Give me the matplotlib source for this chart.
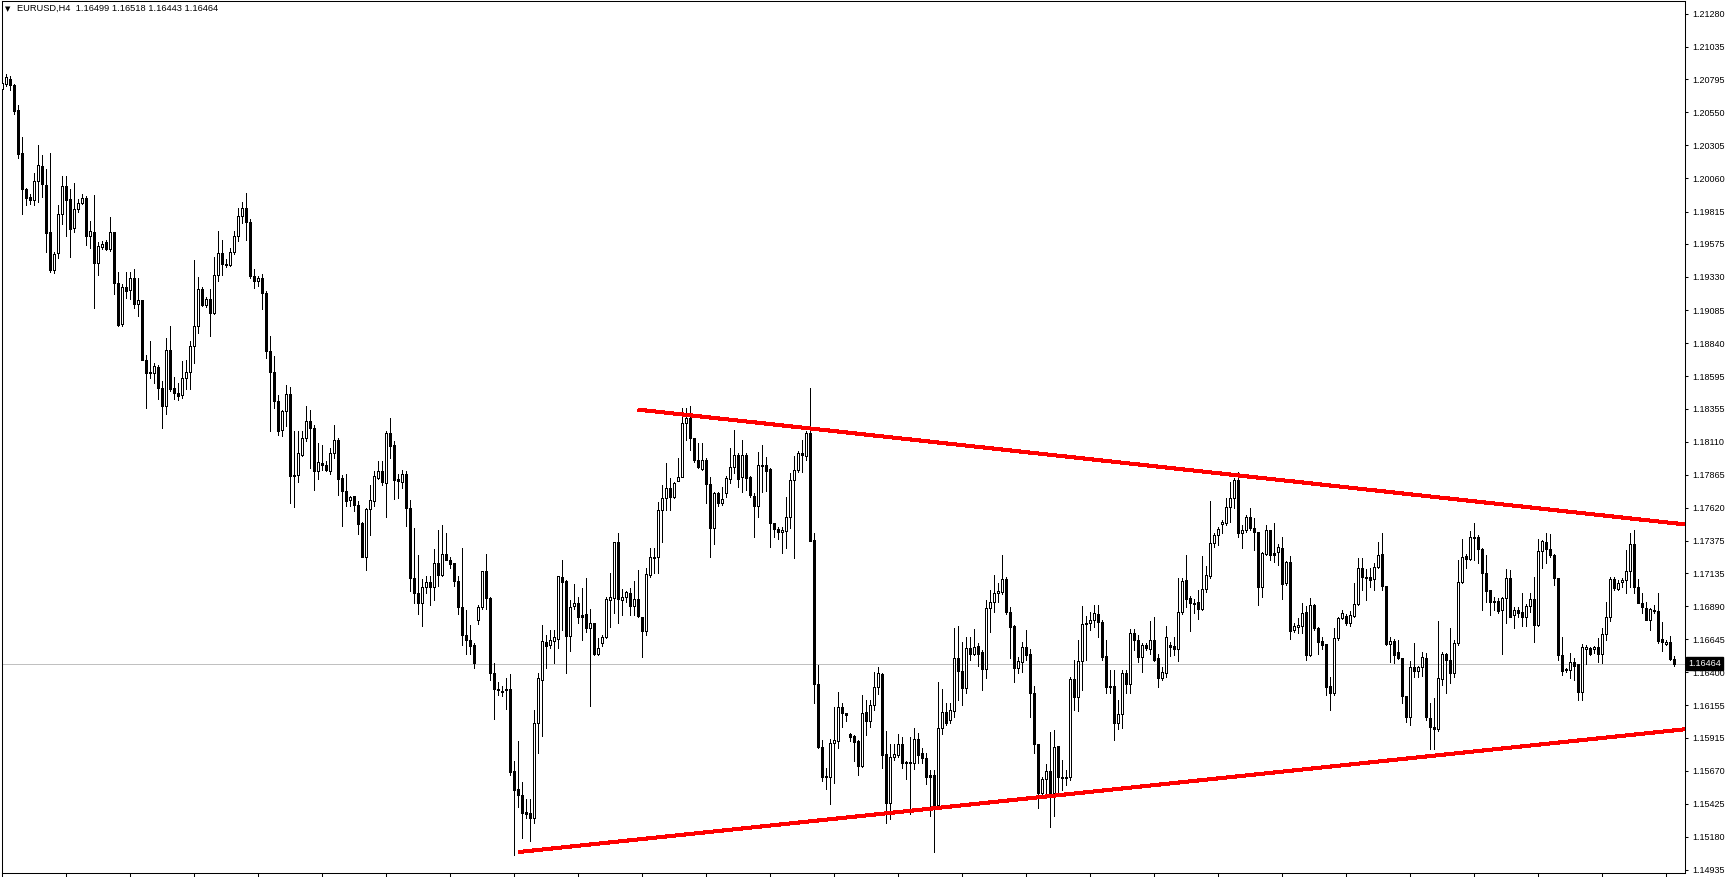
import numpy as np
import matplotlib
matplotlib.use('Agg')
from matplotlib import pyplot as plt

plt.rcParams['font.family'] = ['Liberation Sans', 'DejaVu Sans']

symbol = 'EURUSD,H4'

# H4 candles, oldest first (prices)
opens = [
    1.20725, 1.20762, 1.20799, 1.20754, 1.20569, 1.20250, 1.19984, 1.19925, 1.19902, 1.20043,
    1.20154, 1.20013, 1.19666, 1.19384, 1.19510, 1.19799, 1.20006, 1.19910, 1.19695, 1.19836,
    1.19880, 1.19917, 1.19636, 1.19666, 1.19436, 1.19555, 1.19592, 1.19540, 1.19666, 1.19288,
    1.18985, 1.19259, 1.19236, 1.19325, 1.19133, 1.19162, 1.18718, 1.18622, 1.18615, 1.18659,
    1.18510, 1.18370, 1.18792, 1.18510, 1.18473, 1.18458, 1.18578, 1.18622, 1.18822, 1.18963,
    1.19244, 1.19125, 1.19170, 1.19066, 1.19347, 1.19510, 1.19429, 1.19421, 1.19518, 1.19636,
    1.19784, 1.19843, 1.19740, 1.19340, 1.19303, 1.19325, 1.19214, 1.18778, 1.18622, 1.18407,
    1.18199, 1.18333, 1.18466, 1.17852, 1.17859, 1.18014, 1.18133, 1.18266, 1.18207, 1.17889,
    1.17948, 1.17940, 1.17889, 1.18022, 1.18118, 1.17837, 1.17741, 1.17674, 1.17704, 1.17637,
    1.17504, 1.17252, 1.17607, 1.17667, 1.17837, 1.17889, 1.17800, 1.18170, 1.18081, 1.17829,
    1.17807, 1.17866, 1.17615, 1.17097, 1.16986, 1.16912, 1.17030, 1.17067, 1.17030, 1.17208,
    1.17119, 1.17274, 1.17230, 1.17208, 1.17075, 1.16882, 1.16674, 1.16637, 1.16600, 1.16786,
    1.16882, 1.17149, 1.16949, 1.16393, 1.16274, 1.16260, 1.16274, 1.16274, 1.15668, 1.15534,
    1.15490, 1.15364, 1.15357, 1.15320, 1.16023, 1.16341, 1.16622, 1.16600, 1.16630, 1.16644,
    1.17104, 1.17075, 1.16667, 1.16890, 1.16912, 1.16823, 1.16830, 1.16727, 1.16764, 1.16533,
    1.16615, 1.16659, 1.16934, 1.16949, 1.17363, 1.16934, 1.16956, 1.16986, 1.16890, 1.16941,
    1.16808, 1.16704, 1.17119, 1.17245, 1.17252, 1.17600, 1.17689, 1.17763, 1.17696, 1.17815,
    1.17844, 1.18251, 1.18281, 1.18133, 1.17977, 1.17903, 1.17977, 1.17792, 1.17467, 1.17726,
    1.17652, 1.17726, 1.17829, 1.17918, 1.18014, 1.17844, 1.18007, 1.17844, 1.17704, 1.17630,
    1.17926, 1.17933, 1.17903, 1.17504, 1.17459, 1.17437, 1.17445, 1.17548, 1.17822, 1.17896,
    1.18022, 1.18000, 1.18170, 1.17378, 1.16311, 1.15845, 1.15631, 1.15623, 1.15875, 1.15890,
    1.16141, 1.16097, 1.15941, 1.15927, 1.15890, 1.15705, 1.16104, 1.16038, 1.16156, 1.16289,
    1.16385, 1.15793, 1.15431, 1.15771, 1.15786, 1.15867, 1.15734, 1.15734, 1.15727, 1.15904,
    1.15801, 1.15764, 1.15638, 1.15638, 1.15416, 1.15986, 1.16104, 1.16045, 1.16112, 1.16504,
    1.16408, 1.16282, 1.16578, 1.16533, 1.16593, 1.16548, 1.16422, 1.16875, 1.16919, 1.16986,
    1.16993, 1.17089, 1.16845, 1.16742, 1.16430, 1.16474, 1.16585, 1.16533, 1.16245, 1.15867,
    1.15505, 1.15608, 1.15668, 1.15505, 1.15853, 1.15623, 1.15623, 1.15623, 1.16348, 1.16215,
    1.16482, 1.16756, 1.16764, 1.16786, 1.16830, 1.16771, 1.16519, 1.16297, 1.16297, 1.16023,
    1.16089, 1.16393, 1.16311, 1.16689, 1.16637, 1.16511, 1.16600, 1.16570, 1.16637, 1.16504,
    1.16356, 1.16393, 1.16600, 1.16593, 1.16570, 1.16845, 1.17082, 1.16949, 1.16912, 1.16919,
    1.16867, 1.17015, 1.17112, 1.17356, 1.17415, 1.17496, 1.17504, 1.17622, 1.17689, 1.17822,
    1.17430, 1.17452, 1.17548, 1.17467, 1.17437, 1.17030, 1.17274, 1.17452, 1.17282, 1.17289,
    1.17319, 1.17060, 1.17215, 1.16711, 1.16734, 1.16742, 1.16845, 1.16526, 1.16897, 1.16727,
    1.16630, 1.16607, 1.16297, 1.16245, 1.16652, 1.16801, 1.16816, 1.16764, 1.16816, 1.16904,
    1.17171, 1.17104, 1.17104, 1.17089, 1.17178, 1.17274, 1.17038, 1.16607, 1.16630, 1.16548,
    1.16504, 1.16223, 1.16067, 1.16437, 1.16408, 1.16437, 1.16504, 1.16060, 1.15993, 1.15978,
    1.16348, 1.16533, 1.16489, 1.16393, 1.16615, 1.17067, 1.17260, 1.17237, 1.17393, 1.17400,
    1.17311, 1.17134, 1.17008, 1.16927, 1.16927, 1.16860, 1.16949, 1.17097, 1.16823, 1.16860,
    1.16845, 1.16808, 1.16890, 1.16941, 1.16749, 1.17297, 1.17363, 1.17311, 1.17267, 1.17097,
    1.16526, 1.16422, 1.16415, 1.16474, 1.16459, 1.16252, 1.16570, 1.16578, 1.16570, 1.16585,
    1.16533, 1.16682, 1.16808, 1.17089, 1.17015, 1.17067, 1.17082, 1.17149, 1.17348, 1.17030,
    1.16912, 1.16875, 1.16786, 1.16860, 1.16853, 1.16644, 1.16607, 1.16622, 1.16499,
]
highs = [
    1.21058, 1.20836, 1.20821, 1.20762, 1.20606, 1.20370, 1.19991, 1.19947, 1.20102, 1.20309,
    1.20235, 1.20132, 1.20250, 1.19518, 1.19865, 1.20080, 1.20080, 1.19984, 1.20028, 1.19910,
    1.19947, 1.19932, 1.19747, 1.19939, 1.19592, 1.19599, 1.19606, 1.19777, 1.19666, 1.19370,
    1.19281, 1.19370, 1.19370, 1.19392, 1.19325, 1.19162, 1.18748, 1.18852, 1.18696, 1.18681,
    1.18562, 1.18881, 1.18963, 1.18585, 1.18547, 1.18704, 1.18711, 1.18859, 1.19458, 1.19333,
    1.19259, 1.19185, 1.19244, 1.19481, 1.19673, 1.19606, 1.19466, 1.19547, 1.19673, 1.19843,
    1.19888, 1.19954, 1.19762, 1.19392, 1.19340, 1.19355, 1.19229, 1.18896, 1.18741, 1.18458,
    1.18347, 1.18532, 1.18518, 1.18185, 1.18185, 1.18185, 1.18370, 1.18347, 1.18236, 1.18096,
    1.18081, 1.17963, 1.18066, 1.18236, 1.18140, 1.17859, 1.17866, 1.17704, 1.17704, 1.17667,
    1.17511, 1.17615, 1.17785, 1.17889, 1.17963, 1.17963, 1.18185, 1.18288, 1.18111, 1.17866,
    1.17896, 1.17889, 1.17674, 1.17467, 1.17267, 1.17089, 1.17112, 1.17112, 1.17311, 1.17452,
    1.17489, 1.17430, 1.17252, 1.17208, 1.17112, 1.17319, 1.16860, 1.16749, 1.16615, 1.16897,
    1.17104, 1.17274, 1.16956, 1.16467, 1.16326, 1.16297, 1.16356, 1.16385, 1.15742, 1.15890,
    1.15586, 1.15460, 1.15460, 1.16119, 1.16393, 1.16749, 1.16674, 1.16711, 1.16711, 1.17104,
    1.17230, 1.17082, 1.16934, 1.17052, 1.16956, 1.17023, 1.17097, 1.16867, 1.16764, 1.16652,
    1.16674, 1.16956, 1.17134, 1.17363, 1.17430, 1.17015, 1.17001, 1.17023, 1.17075, 1.17156,
    1.16808, 1.17171, 1.17319, 1.17319, 1.17659, 1.17785, 1.17948, 1.17837, 1.17807, 1.17985,
    1.18362, 1.18362, 1.18377, 1.18140, 1.18096, 1.18096, 1.17985, 1.17844, 1.17733, 1.17733,
    1.17770, 1.17852, 1.18066, 1.18199, 1.18022, 1.18125, 1.18022, 1.17852, 1.17726, 1.18029,
    1.18081, 1.17992, 1.17911, 1.17504, 1.17474, 1.17474, 1.17696, 1.17874, 1.18000, 1.18037,
    1.18118, 1.18185, 1.18510, 1.17430, 1.16452, 1.15897, 1.15690, 1.15904, 1.16141, 1.16252,
    1.16171, 1.16097, 1.15949, 1.15934, 1.15897, 1.16230, 1.16193, 1.16193, 1.16400, 1.16437,
    1.16393, 1.15964, 1.15867, 1.15867, 1.15941, 1.15919, 1.15742, 1.15919, 1.15986, 1.15949,
    1.15838, 1.15801, 1.15675, 1.15675, 1.16326, 1.16274, 1.16171, 1.16171, 1.16727, 1.16742,
    1.16622, 1.16659, 1.16659, 1.16719, 1.16615, 1.16563, 1.16934, 1.17008, 1.17119, 1.17060,
    1.17267, 1.17104, 1.16882, 1.16749, 1.16511, 1.16622, 1.16711, 1.16570, 1.16297, 1.15867,
    1.15623, 1.15719, 1.15956, 1.15971, 1.15853, 1.15749, 1.15675, 1.16363, 1.16489, 1.16637,
    1.16890, 1.16816, 1.16845, 1.16897, 1.16897, 1.16786, 1.16637, 1.16415, 1.16415, 1.16193,
    1.16415, 1.16415, 1.16719, 1.16719, 1.16674, 1.16615, 1.16615, 1.16779, 1.16808, 1.16533,
    1.16437, 1.16742, 1.16622, 1.16659, 1.17097, 1.17097, 1.17267, 1.16963, 1.16941, 1.17008,
    1.17260, 1.17186, 1.17667, 1.17430, 1.17474, 1.17526, 1.17689, 1.17807, 1.17837, 1.17881,
    1.17489, 1.17563, 1.17615, 1.17541, 1.17437, 1.17289, 1.17489, 1.17452, 1.17504, 1.17348,
    1.17400, 1.17223, 1.17260, 1.16764, 1.16801, 1.16912, 1.16890, 1.16949, 1.16904, 1.16734,
    1.16659, 1.16607, 1.16363, 1.16727, 1.16808, 1.16860, 1.16830, 1.16853, 1.17060, 1.17245,
    1.17245, 1.17163, 1.17171, 1.17208, 1.17363, 1.17430, 1.17038, 1.16659, 1.16644, 1.16637,
    1.16504, 1.16223, 1.16482, 1.16615, 1.16445, 1.16548, 1.16541, 1.16171, 1.16208, 1.16779,
    1.16548, 1.16541, 1.16727, 1.16637, 1.17230, 1.17385, 1.17274, 1.17445, 1.17504, 1.17415,
    1.17319, 1.17267, 1.17008, 1.16956, 1.16949, 1.16956, 1.17163, 1.17156, 1.16882, 1.16882,
    1.16986, 1.16904, 1.16986, 1.17104, 1.17385, 1.17378, 1.17430, 1.17422, 1.17274, 1.17097,
    1.16659, 1.16430, 1.16541, 1.16504, 1.16459, 1.16607, 1.16600, 1.16585, 1.16593, 1.16652,
    1.16727, 1.16919, 1.17104, 1.17104, 1.17082, 1.17097, 1.17304, 1.17430, 1.17452, 1.17089,
    1.16986, 1.16919, 1.16875, 1.16897, 1.16986, 1.16771, 1.16637, 1.16667, 1.16518,
]
lows = [
    1.20703, 1.20747, 1.20717, 1.20540, 1.20213, 1.19799, 1.19865, 1.19873, 1.19865, 1.19888,
    1.19925, 1.19518, 1.19370, 1.19362, 1.19473, 1.19725, 1.19636, 1.19481, 1.19666, 1.19814,
    1.19873, 1.19569, 1.19547, 1.19103, 1.19347, 1.19540, 1.19532, 1.19525, 1.19207, 1.18970,
    1.18963, 1.19177, 1.19170, 1.19103, 1.19037, 1.18711, 1.18362, 1.18578, 1.18547, 1.18429,
    1.18214, 1.18318, 1.18488, 1.18429, 1.18421, 1.18436, 1.18503, 1.18503, 1.18689, 1.18918,
    1.19118, 1.19111, 1.18896, 1.19059, 1.19303, 1.19347, 1.19407, 1.19414, 1.19503, 1.19599,
    1.19732, 1.19606, 1.19325, 1.19251, 1.19266, 1.19096, 1.18726, 1.18185, 1.18362, 1.18162,
    1.18148, 1.18229, 1.17652, 1.17622, 1.17807, 1.18000, 1.18111, 1.17911, 1.17748, 1.17829,
    1.17896, 1.17889, 1.17866, 1.17985, 1.17711, 1.17482, 1.17630, 1.17630, 1.17593, 1.17422,
    1.17267, 1.17156, 1.17415, 1.17630, 1.17829, 1.17785, 1.17548, 1.17985, 1.17681, 1.17689,
    1.17763, 1.17482, 1.17001, 1.16912, 1.16830, 1.16742, 1.16986, 1.16897, 1.16934, 1.17038,
    1.17112, 1.17267, 1.17171, 1.17038, 1.16830, 1.16600, 1.16533, 1.16533, 1.16430, 1.16756,
    1.16867, 1.16867, 1.16341, 1.16052, 1.16230, 1.16223, 1.16126, 1.15638, 1.15046, 1.15401,
    1.15172, 1.15320, 1.15150, 1.15283, 1.15801, 1.15927, 1.16430, 1.16578, 1.16467, 1.16578,
    1.16711, 1.16393, 1.16556, 1.16867, 1.16764, 1.16637, 1.16696, 1.16149, 1.16526, 1.16526,
    1.16593, 1.16652, 1.16734, 1.16838, 1.16764, 1.16823, 1.16919, 1.16823, 1.16823, 1.16808,
    1.16511, 1.16674, 1.17104, 1.17134, 1.17134, 1.17363, 1.17600, 1.17600, 1.17689, 1.17815,
    1.17844, 1.18125, 1.18044, 1.17955, 1.17911, 1.17896, 1.17652, 1.17252, 1.17348, 1.17630,
    1.17637, 1.17696, 1.17800, 1.17874, 1.17770, 1.17733, 1.17748, 1.17696, 1.17400, 1.17548,
    1.17733, 1.17741, 1.17326, 1.17400, 1.17385, 1.17282, 1.17319, 1.17467, 1.17245, 1.17881,
    1.17881, 1.17970, 1.17371, 1.16171, 1.15838, 1.15594, 1.15534, 1.15423, 1.15579, 1.15838,
    1.15993, 1.16038, 1.15890, 1.15742, 1.15638, 1.15697, 1.15934, 1.15993, 1.16119, 1.16237,
    1.15690, 1.15283, 1.15312, 1.15749, 1.15771, 1.15690, 1.15608, 1.15349, 1.15682, 1.15727,
    1.15727, 1.15571, 1.15335, 1.15068, 1.15401, 1.15941, 1.16008, 1.16023, 1.16067, 1.16193,
    1.16156, 1.16245, 1.16489, 1.16526, 1.16445, 1.16267, 1.16356, 1.16696, 1.16845, 1.16919,
    1.16978, 1.16830, 1.16504, 1.16326, 1.16393, 1.16400, 1.16489, 1.16067, 1.15801, 1.15394,
    1.15483, 1.15490, 1.15253, 1.15335, 1.15505, 1.15527, 1.15564, 1.15601, 1.16119, 1.16112,
    1.16267, 1.16489, 1.16711, 1.16734, 1.16659, 1.16489, 1.16245, 1.16245, 1.15897, 1.15978,
    1.15986, 1.16245, 1.16245, 1.16563, 1.16474, 1.16400, 1.16563, 1.16533, 1.16482, 1.16289,
    1.16341, 1.16363, 1.16519, 1.16526, 1.16482, 1.16830, 1.16882, 1.16704, 1.16838, 1.16793,
    1.16860, 1.16993, 1.17097, 1.17326, 1.17341, 1.17430, 1.17489, 1.17511, 1.17615, 1.17400,
    1.17319, 1.17437, 1.17452, 1.17304, 1.16897, 1.16956, 1.17267, 1.17230, 1.17215, 1.17193,
    1.16941, 1.17045, 1.16644, 1.16696, 1.16689, 1.16689, 1.16489, 1.16519, 1.16711, 1.16533,
    1.16570, 1.16230, 1.16119, 1.16230, 1.16637, 1.16793, 1.16749, 1.16742, 1.16808, 1.16897,
    1.17008, 1.16934, 1.17030, 1.17008, 1.17171, 1.17008, 1.16600, 1.16474, 1.16467, 1.16496,
    1.16171, 1.16030, 1.16008, 1.16363, 1.16363, 1.16371, 1.16045, 1.15830, 1.15830, 1.15964,
    1.16304, 1.16245, 1.16319, 1.16363, 1.16600, 1.17060, 1.17171, 1.17230, 1.17230, 1.17208,
    1.16860, 1.16919, 1.16823, 1.16860, 1.16838, 1.16533, 1.16764, 1.16808, 1.16727, 1.16808,
    1.16742, 1.16742, 1.16845, 1.16622, 1.16742, 1.17171, 1.17208, 1.17252, 1.17045, 1.16489,
    1.16378, 1.16400, 1.16356, 1.16341, 1.16193, 1.16193, 1.16459, 1.16526, 1.16541, 1.16474,
    1.16467, 1.16637, 1.16779, 1.17008, 1.17008, 1.17030, 1.16986, 1.17030, 1.16986, 1.16912,
    1.16838, 1.16786, 1.16711, 1.16838, 1.16615, 1.16556, 1.16600, 1.16489, 1.16443,
]
closes = [
    1.20769, 1.20814, 1.20754, 1.20562, 1.20243, 1.19984, 1.19917, 1.19902, 1.20043, 1.20161,
    1.20021, 1.19658, 1.19384, 1.19503, 1.19799, 1.20006, 1.19902, 1.19688, 1.19836, 1.19880,
    1.19917, 1.19636, 1.19673, 1.19436, 1.19562, 1.19577, 1.19540, 1.19666, 1.19288, 1.18977,
    1.19259, 1.19229, 1.19325, 1.19133, 1.19162, 1.18718, 1.18615, 1.18615, 1.18667, 1.18510,
    1.18370, 1.18785, 1.18503, 1.18473, 1.18451, 1.18578, 1.18622, 1.18822, 1.18963, 1.19244,
    1.19125, 1.19170, 1.19066, 1.19347, 1.19510, 1.19429, 1.19421, 1.19518, 1.19636, 1.19784,
    1.19843, 1.19740, 1.19340, 1.19303, 1.19325, 1.19214, 1.18778, 1.18622, 1.18407, 1.18192,
    1.18333, 1.18466, 1.17852, 1.17859, 1.18022, 1.18140, 1.18266, 1.18207, 1.17889, 1.17955,
    1.17940, 1.17896, 1.18022, 1.18118, 1.17829, 1.17741, 1.17667, 1.17696, 1.17637, 1.17496,
    1.17252, 1.17607, 1.17674, 1.17852, 1.17889, 1.17807, 1.18170, 1.18074, 1.17822, 1.17815,
    1.17866, 1.17615, 1.17097, 1.16986, 1.16912, 1.17030, 1.17067, 1.17030, 1.17208, 1.17119,
    1.17274, 1.17230, 1.17200, 1.17075, 1.16882, 1.16674, 1.16637, 1.16593, 1.16467, 1.16882,
    1.17149, 1.16949, 1.16393, 1.16274, 1.16267, 1.16252, 1.16267, 1.15660, 1.15527, 1.15490,
    1.15357, 1.15349, 1.15320, 1.16023, 1.16356, 1.16630, 1.16593, 1.16637, 1.16659, 1.17112,
    1.17067, 1.16667, 1.16882, 1.16912, 1.16808, 1.16808, 1.16727, 1.16764, 1.16533, 1.16578,
    1.16659, 1.16941, 1.16956, 1.17363, 1.16941, 1.16956, 1.16993, 1.16890, 1.16941, 1.16816,
    1.16704, 1.17126, 1.17252, 1.17252, 1.17600, 1.17689, 1.17763, 1.17696, 1.17800, 1.17844,
    1.18251, 1.18281, 1.18133, 1.17970, 1.17918, 1.17977, 1.17792, 1.17467, 1.17726, 1.17652,
    1.17681, 1.17837, 1.17918, 1.18014, 1.17829, 1.18007, 1.17837, 1.17711, 1.17630, 1.17933,
    1.17933, 1.17889, 1.17504, 1.17459, 1.17437, 1.17452, 1.17548, 1.17822, 1.17896, 1.18022,
    1.18007, 1.18170, 1.17371, 1.16311, 1.15845, 1.15623, 1.15623, 1.15875, 1.15897, 1.16141,
    1.16097, 1.16082, 1.15919, 1.15882, 1.15705, 1.16097, 1.16038, 1.16156, 1.16289, 1.16393,
    1.15786, 1.15431, 1.15771, 1.15793, 1.15867, 1.15727, 1.15727, 1.15727, 1.15904, 1.15786,
    1.15764, 1.15623, 1.15623, 1.15416, 1.15986, 1.16104, 1.16023, 1.16119, 1.16504, 1.16408,
    1.16282, 1.16578, 1.16533, 1.16585, 1.16533, 1.16422, 1.16875, 1.16919, 1.16986, 1.17001,
    1.17089, 1.16845, 1.16734, 1.16430, 1.16482, 1.16585, 1.16526, 1.16245, 1.15867, 1.15505,
    1.15608, 1.15668, 1.15505, 1.15845, 1.15623, 1.15616, 1.15616, 1.16348, 1.16215, 1.16482,
    1.16756, 1.16764, 1.16786, 1.16838, 1.16771, 1.16511, 1.16289, 1.16289, 1.16023, 1.16089,
    1.16393, 1.16311, 1.16689, 1.16637, 1.16511, 1.16600, 1.16578, 1.16637, 1.16489, 1.16356,
    1.16400, 1.16659, 1.16585, 1.16570, 1.16845, 1.17075, 1.16941, 1.16912, 1.16904, 1.16867,
    1.17015, 1.17119, 1.17356, 1.17415, 1.17459, 1.17511, 1.17622, 1.17689, 1.17822, 1.17430,
    1.17452, 1.17548, 1.17467, 1.17437, 1.17030, 1.17282, 1.17452, 1.17267, 1.17267, 1.17326,
    1.17052, 1.17215, 1.16704, 1.16742, 1.16749, 1.16838, 1.16526, 1.16897, 1.16727, 1.16622,
    1.16600, 1.16289, 1.16245, 1.16652, 1.16801, 1.16838, 1.16764, 1.16823, 1.16904, 1.17171,
    1.17104, 1.17097, 1.17082, 1.17178, 1.17267, 1.17038, 1.16607, 1.16630, 1.16526, 1.16504,
    1.16223, 1.16067, 1.16437, 1.16408, 1.16437, 1.16511, 1.16067, 1.15993, 1.15978, 1.16356,
    1.16533, 1.16489, 1.16393, 1.16615, 1.17067, 1.17252, 1.17237, 1.17400, 1.17400, 1.17311,
    1.17134, 1.17001, 1.16919, 1.16919, 1.16853, 1.16949, 1.17097, 1.16808, 1.16860, 1.16838,
    1.16808, 1.16890, 1.16941, 1.16749, 1.17297, 1.17371, 1.17311, 1.17267, 1.17097, 1.16526,
    1.16408, 1.16415, 1.16474, 1.16445, 1.16252, 1.16585, 1.16585, 1.16533, 1.16585, 1.16533,
    1.16682, 1.16808, 1.17089, 1.17023, 1.17060, 1.17082, 1.17149, 1.17348, 1.17030, 1.16912,
    1.16882, 1.16786, 1.16867, 1.16853, 1.16630, 1.16622, 1.16622, 1.16496, 1.16464,
]

# trend lines drawn on the chart: (bar index, price) anchors
upper_line_x = [159.0, 420.75]
upper_line_y = [1.18347, 1.17496]
lower_line_x = [129.15, 420.75]
lower_line_y = [1.15068, 1.15978]

# price scale labels on the right
ytick_values = [1.21280, 1.21035, 1.20795, 1.20550, 1.20305, 1.20060, 1.19815, 1.19575,
                1.19330, 1.19085, 1.18840, 1.18595, 1.18355, 1.18110, 1.17865, 1.17620,
                1.17375, 1.17135, 1.16890, 1.16645, 1.16400, 1.16155, 1.15915, 1.15670,
                1.15425, 1.15180, 1.14935]

n = min(len(opens), len(highs), len(lows), len(closes))
o = np.array(opens[:n])
h = np.array(highs[:n])
l = np.array(lows[:n])
c = np.array(closes[:n])
x = np.arange(n)
up = c >= o

W, H = 1729, 877
fig = plt.figure(figsize=(W / 100, H / 100), dpi=100)
fig.patch.set_facecolor('white')
ax = fig.add_axes([1.5 / W, 4 / H, 1683.5 / W, 872 / H])
ax.set_facecolor('white')

# current price line
ax.axhline(c[-1], color='#C0C0C0', lw=0.72, zorder=1)

# wicks and bodies
ax.vlines(x, l, h, colors='black', linewidth=0.72, antialiased=False, zorder=2)
body_lo = np.minimum(o, c)
body_h = np.abs(c - o)
ax.bar(x, body_h, bottom=body_lo, width=0.5,
       color=np.where(up, 'white', 'black'), edgecolor='black',
       linewidth=0.72, antialiased=False, zorder=3)

# trend lines
ax.plot(upper_line_x, upper_line_y, color='#FF0000', lw=2.2, antialiased=False,
        solid_capstyle='butt', zorder=4)
ax.plot(lower_line_x, lower_line_y, color='#FF0000', lw=2.2, antialiased=False,
        solid_capstyle='butt', zorder=4)

ax.set_xlim(-0.125, -0.125 + 1683.5 / 4)
ax.set_ylim(1.149124, 1.213753)

ax.yaxis.tick_right()
ax.set_yticks(ytick_values)
ax.set_yticklabels([f'{v:.5f}' for v in ytick_values])
ax.tick_params(axis='y', direction='out', length=2.5, width=0.75, pad=2.5,
               labelsize=6.5, colors='black')
ax.set_xticks(np.arange(0, n, 16))
ax.set_xticklabels([])
ax.tick_params(axis='x', direction='out', length=3.6, width=0.75)
for s in ax.spines.values():
    s.set_linewidth(0.75)
    s.set_color('black')

# current price marker on the scale
ax.annotate(f'{c[-1]:.5f}', xy=(1, c[-1]), xycoords=('axes fraction', 'data'),
            xytext=(2.5, 0), textcoords='offset points', ha='left', va='center',
            color='white', fontsize=6.5, annotation_clip=False, zorder=10,
            bbox=dict(boxstyle='square,pad=0.22', fc='black', ec='black'))

# header line
fig.text(5 / W, 1 - 9 / H, '\u25BC', fontsize=5, family='DejaVu Sans',
         va='center', ha='left')
fig.text(17 / W, 1 - 8.5 / H,
         f'{symbol}  {o[-1]:.5f} {h[-1]:.5f} {l[-1]:.5f} {c[-1]:.5f}',
         fontsize=6.7, va='center', ha='left')

fig.savefig('out.png', dpi=100)
